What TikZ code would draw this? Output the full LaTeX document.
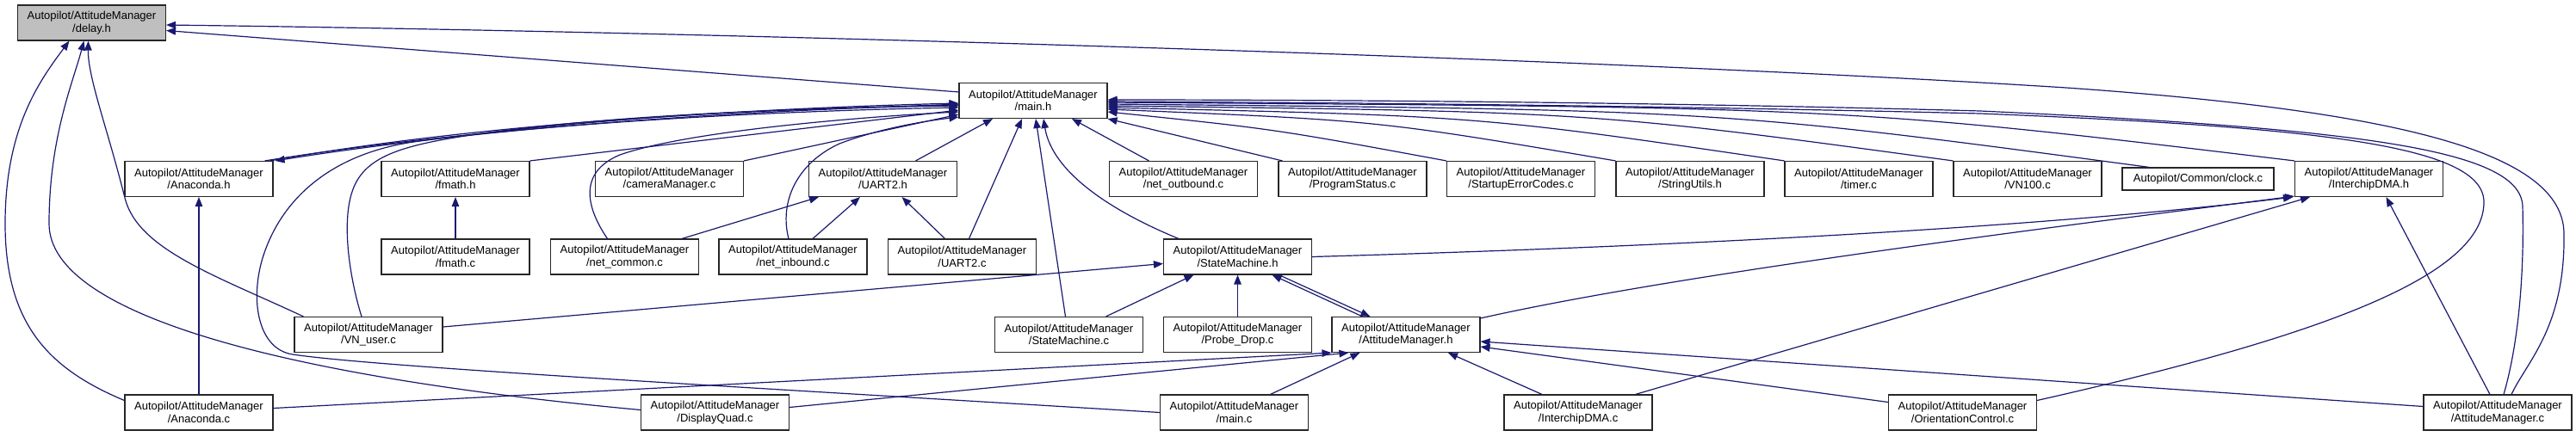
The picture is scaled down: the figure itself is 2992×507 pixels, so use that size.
\documentclass[tikz,border=0pt]{standalone}
\usepackage{fontspec}
\setmainfont{Liberation Sans}
\usetikzlibrary{arrows.meta,calc}
\definecolor{depblue}{HTML}{191970}
\definecolor{boxgray}{HTML}{BFBFBF}
\tikzset{
  fnode/.style={draw=black!85, line width=1.1pt, fill=white, minimum width=172pt, minimum height=41pt,
    inner sep=0pt, align=center, font=\fontsize{13}{14.5}\selectfont},
  gnode/.style={fnode, fill=boxgray},
  dep/.style={draw=depblue, line width=1.2pt, -{Triangle[length=11pt,width=8.5pt]}},
}
\begin{document}
\begin{tikzpicture}[x=1pt,y=-1pt]
\useasboundingbox (0,0) rectangle (2992,507);
% nodes
\node[gnode] (delay) at (106.5,26.5) {Autopilot/AttitudeManager\\/delay.h};
\node[fnode] (mainh) at (1200,117) {Autopilot/AttitudeManager\\/main.h};
\node[fnode] (anah) at (231,208) {Autopilot/AttitudeManager\\/Anaconda.h};
\node[fnode] (fmathh) at (529,208) {Autopilot/AttitudeManager\\/fmath.h};
\node[fnode] (cam) at (777.5,208) {Autopilot/AttitudeManager\\/cameraManager.c};
\node[fnode] (uarth) at (1025.5,208) {Autopilot/AttitudeManager\\/UART2.h};
\node[fnode] (netout) at (1374.5,208) {Autopilot/AttitudeManager\\/net\_outbound.c};
\node[fnode] (progstat) at (1571,208) {Autopilot/AttitudeManager\\/ProgramStatus.c};
\node[fnode] (startup) at (1766.5,208) {Autopilot/AttitudeManager\\/StartupErrorCodes.c};
\node[fnode] (strutil) at (1963,208) {Autopilot/AttitudeManager\\/StringUtils.h};
\node[fnode] (timer) at (2159,208) {Autopilot/AttitudeManager\\/timer.c};
\node[fnode] (vn100) at (2355,208) {Autopilot/AttitudeManager\\/VN100.c};
\node[fnode, minimum width=176pt, minimum height=26pt] (clock) at (2553,208) {Autopilot/Common/clock.c};
\node[fnode] (ichiph) at (2751.5,208) {Autopilot/AttitudeManager\\/InterchipDMA.h};
\node[fnode] (fmathc) at (529,298.5) {Autopilot/AttitudeManager\\/fmath.c};
\node[fnode] (netcom) at (725.5,298.5) {Autopilot/AttitudeManager\\/net\_common.c};
\node[fnode] (netin) at (921,298.5) {Autopilot/AttitudeManager\\/net\_inbound.c};
\node[fnode] (uartc) at (1117.5,298.5) {Autopilot/AttitudeManager\\/UART2.c};
\node[fnode] (smh) at (1437.5,298.5) {Autopilot/AttitudeManager\\/StateMachine.h};
\node[fnode] (vnuser) at (428,389) {Autopilot/AttitudeManager\\/VN\_user.c};
\node[fnode] (smc) at (1241.5,389) {Autopilot/AttitudeManager\\/StateMachine.c};
\node[fnode] (probe) at (1437.5,389) {Autopilot/AttitudeManager\\/Probe\_Drop.c};
\node[fnode] (amh) at (1633,389) {Autopilot/AttitudeManager\\/AttitudeManager.h};
\node[fnode] (anac) at (231,479.5) {Autopilot/AttitudeManager\\/Anaconda.c};
\node[fnode] (disp) at (830.5,479.5) {Autopilot/AttitudeManager\\/DisplayQuad.c};
\node[fnode] (mainc) at (1433.5,479.5) {Autopilot/AttitudeManager\\/main.c};
\node[fnode] (ichipc) at (1833,479.5) {Autopilot/AttitudeManager\\/InterchipDMA.c};
\node[fnode] (orient) at (2279.5,479.5) {Autopilot/AttitudeManager\\/OrientationControl.c};
\node[fnode] (amc) at (2901,479.5) {Autopilot/AttitudeManager\\/AttitudeManager.c};
% edges into delay.h
\draw[dep] ($(mainh.north west)+(0,11)$) -- ($(delay.east)+(0,9)$);
\draw[dep] ($(amc.north)+(16,0)$) .. controls (2935,420) and (2980,380) .. (2978,270) .. controls (2975,180) and (2800,130) .. (2400,102) .. controls (1900,70) and (900,38) .. ($(delay.east)+(0,2.5)$);
\draw[dep] ($(anac.west)+(0,-14)$) .. controls (60,430) and (6,380) .. (6,260) .. controls (6,150) and (45,95) .. ($(delay.south)+(-26,0)$);
\draw[dep] ($(disp.west)+(0,-3)$) .. controls (350,440) and (57,370) .. (57,260) .. controls (57,160) and (85,95) .. ($(delay.south)+(-9,0)$);
\draw[dep] ($(vnuser.north west)+(11,0)$) .. controls (250,320) and (160,290) .. (145,230) .. controls (125,150) and (102,90) .. ($(delay.south)+(-4,0)$);
% Anaconda
\draw[dep] (anac.north) -- (anah.south);
\draw[dep] ($(anac.east)+(0,-5)$) -- (amh.south west);
\draw[dep] ($(disp.east)+(0,-6)$) -- ($(amh.south west)+(20,0)$);
% into main.h from the left
\draw[dep] (mainc.west) .. controls (900,452) and (440,427) .. (340,412) .. controls (300,406) and (290,350) .. (305,300) .. controls (325,235) and (380,180) .. (480,165) .. controls (700,135) and (950,124) .. ($(mainh.west)+(0,3)$);
\draw[dep] ($(vnuser.north)+(-8,0)$) .. controls (408,330) and (395,260) .. (410,220) .. controls (425,180) and (470,168) .. (560,155) .. controls (760,128) and (1000,126) .. ($(mainh.west)+(0,4)$);
\draw[dep] ($(mainh.west)+(0,5)$) .. controls (850,128) and (550,150) .. ($(anah.north east)+(2,0)$);
\draw[dep] ($(anah.north east)+(-4,0)$) .. controls (550,145) and (850,126) .. ($(mainh.west)+(0,6)$);
\draw[dep] ($(anah.north east)+(-10,0)$) .. controls (550,148) and (850,130) .. ($(mainh.west)+(0,8)$);
\draw[dep] (fmathh.north east) -- ($(mainh.west)+(0,11)$);
\draw[dep] (cam.north east) -- ($(mainh.west)+(0,16)$);
\draw[dep] ($(netcom.north)+(-20,0)$) .. controls (680,240) and (672,200) .. (720,180) .. controls (800,152) and (1000,136) .. ($(mainh.west)+(0,13)$);
\draw[dep] ($(netin.north)+(-5,0)$) .. controls (905,235) and (925,190) .. (975,167) .. controls (1025,148) and (1080,140) .. ($(mainh.west)+(0,19)$);
% into main.h from below
\draw[dep] ($(uarth.north)+(38,0)$) -- ($(mainh.south)+(-47,0)$);
\draw[dep] ($(uartc.north)+(8,0)$) -- ($(mainh.south)+(-13,0)$);
\draw[dep] ($(smc.north)+(-4,0)$) -- ($(mainh.south)+(3,0)$);
\draw[dep] ($(smh.north west)+(18,0)$) .. controls (1290,245) and (1222,200) .. ($(mainh.south)+(12,0)$);
\draw[dep] ($(netout.north)+(-40,0)$) -- ($(mainh.south)+(45,0)$);
\draw[dep] ($(progstat.north west)+(5,0)$) -- (mainh.south east);
% into main.h from the right
\draw[dep] (startup.north west) .. controls (1480,150) .. ($(mainh.east)+(0,13)$);
\draw[dep] (strutil.north west) .. controls (1600,140) .. ($(mainh.east)+(0,10)$);
\draw[dep] (timer.north west) .. controls (1720,135) .. ($(mainh.east)+(0,8)$);
\draw[dep] (vn100.north west) .. controls (1850,130) .. ($(mainh.east)+(0,6)$);
\draw[dep] ($(clock.north west)+(32,0)$) .. controls (2000,128) .. ($(mainh.east)+(0,4)$);
\draw[dep] (ichiph.north west) .. controls (2150,125) .. ($(mainh.east)+(0,2)$);
\draw[dep] ($(orient.east)+(0,-14)$) .. controls (2700,390) and (2885,320) .. (2885,235) .. controls (2885,170) and (2700,148) .. (2300,132) .. controls (1900,122) and (1500,119) .. ($(mainh.east)+(0,1)$);
\draw[dep] ($(amc.north)+(7,0)$) .. controls (2925,400) and (2932,320) .. (2930,240) .. controls (2928,175) and (2750,150) .. (2300,129) .. controls (1900,118) and (1500,116) .. ($(mainh.east)+(0,-1)$);
% UART2.h
\draw[dep] ($(uartc.north)+(-20,0)$) -- ($(uarth.south)+(22,0)$);
\draw[dep] ($(netcom.north east)+(-20,0)$) -- ($(uarth.south west)+(12,0)$);
\draw[dep] ($(netin.north)+(23,0)$) -- ($(uarth.south west)+(60,0)$);
% fmath
\draw[dep] (fmathc.north) -- (fmathh.south);
% StateMachine.h
\draw[dep] ($(vnuser.east)+(0,-9)$) -- ($(smh.west)+(0,8)$);
\draw[dep] ($(smc.north)+(43,0)$) -- ($(smh.south)+(-51,0)$);
\draw[dep] (probe.north) -- (smh.south);
\draw[dep] ($(amh.north west)+(36,0)$) -- ($(smh.south)+(40,0)$);
\draw[dep] ($(smh.south)+(48,0)$) -- ($(amh.north west)+(45,0)$);
% AttitudeManager.h
\draw[dep] ($(mainc.north)+(42,0)$) -- ($(amh.south west)+(33,0)$);
\draw[dep] ($(ichipc.north)+(-42,0)$) -- ($(amh.south)+(49,0)$);
\draw[dep] ($(amc.west)+(0,-7)$) -- ($(amh.east)+(0,8)$);
\draw[dep] ($(orient.west)+(0,-12)$) -- ($(amh.east)+(0,14)$);
% InterchipDMA.h
\draw[dep] (smh.east) .. controls (2100,282) and (2450,255) .. ($(ichiph.south west)+(-2,0)$);
\draw[dep] ($(amh.north east)+(0,2)$) .. controls (1950,318) and (2400,262) .. ($(ichiph.south west)+(0,-1)$);
\draw[dep] ($(ichipc.north east)+(-20,0)$) -- ($(ichiph.south west)+(18,0)$);
\draw[dep] ($(amc.north)+(-9,0)$) -- ($(ichiph.south)+(20,0)$);
\end{tikzpicture}
\end{document}
